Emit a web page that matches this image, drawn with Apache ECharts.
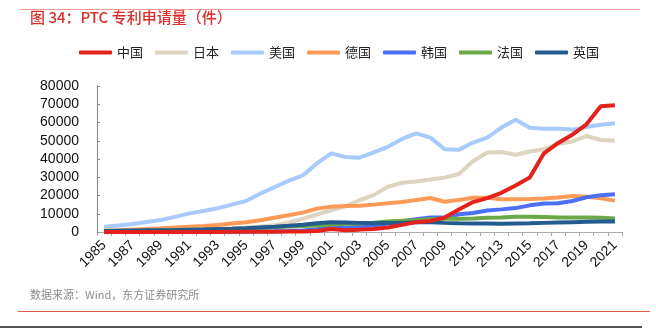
<!DOCTYPE html>
<html>
<head>
<meta charset="utf-8">
<script src="https://cdn.jsdelivr.net/npm/echarts@6/dist/echarts.min.js"></script>
<style>html,body{margin:0;padding:0;background:#fff;}#c{width:656px;height:330px;}</style>
</head>
<body>
<div id="c"></div>
<script>
const years = [];
for (let y = 1985; y <= 2021; y++) years.push(String(y));

const seriesNames = ['中国', '日本', '美国', '德国', '韩国', '法国', '英国'];

const china = [0, 0, 0, 0, 0, 0, 0, 0, 0, 100, 100, 120, 160, 250, 280, 580, 1700, 1000, 1300, 1700,
  2500, 3900, 5400, 6100, 7900, 12300, 16400, 18600, 21500, 25500, 29800, 43100, 48800, 53300, 59000, 68900, 69500];
const japan = [300, 400, 500, 700, 900, 1100, 1300, 1600, 1800, 2100, 2500, 3000, 3700, 5200, 7200, 9600, 11900, 14100, 17400, 20200,
  24800, 27000, 27700, 28800, 29800, 31800, 38800, 43600, 43800, 42300, 44100, 45300, 48200, 49600, 52600, 50400, 50200];
const usa = [2900, 3600, 4400, 5500, 6600, 8300, 10200, 11500, 13000, 15000, 17000, 21000, 24500, 28000, 31000, 37600, 43100, 41100, 40700, 43600,
  46700, 51000, 54000, 51700, 45400, 45000, 49000, 51700, 57200, 61500, 57100, 56600, 56600, 56100, 57500, 58800, 59600];
const germany = [700, 900, 1300, 1700, 2000, 2500, 2900, 3300, 3800, 4600, 5300, 6400, 7800, 9200, 10600, 12800, 13900, 14200, 14400, 15000,
  15700, 16400, 17500, 18600, 16600, 17500, 18800, 18800, 18000, 18000, 18100, 18300, 18900, 19700, 19300, 18500, 17200];
const korea = [0, 0, 0, 10, 20, 40, 60, 80, 110, 150, 180, 250, 350, 500, 800, 1500, 2300, 2500, 2900, 3500,
  4700, 5900, 7000, 7900, 8000, 9700, 10400, 11800, 12400, 13100, 14600, 15600, 15800, 17000, 19000, 20100, 20700];
const france = [300, 400, 500, 600, 800, 900, 1100, 1300, 1500, 1700, 1900, 2200, 2600, 3000, 3300, 3600, 4100, 4500, 4700, 5100,
  5700, 6200, 6500, 7000, 7200, 7200, 7400, 7800, 7900, 8300, 8400, 8200, 8000, 7900, 7900, 7800, 7400];
const uk = [600, 700, 800, 900, 1000, 1100, 1300, 1400, 1600, 1800, 2100, 2500, 2900, 3400, 4000, 4800, 5300, 5200, 5000, 4800,
  4900, 5000, 5400, 5400, 5000, 4800, 4700, 4600, 4500, 4700, 4800, 5000, 5200, 5400, 5600, 5700, 5800];

const colors = ['#e3221c', '#ddd4c1', '#a7cbfd', '#fc9b58', '#4b6ff5', '#6ba848', '#245b8e'];
const dataList = [china, japan, usa, germany, korea, france, uk];

const chart = echarts.init(document.getElementById('c'), null, {renderer: 'canvas'});
const font = '"Noto Sans CJK SC", "Liberation Sans", Arial, sans-serif';
const numFont = '"Liberation Sans", Arial, sans-serif';

chart.setOption({
  animation: false,
  backgroundColor: '#fff',
  color: colors,
  textStyle: {fontFamily: font},
  graphic: [
    {type: 'rect', shape: {x: 20, y: 9, width: 620, height: 1}, style: {fill: '#f09a94'}},
    {type: 'text', left: 30, top: 10, style: {text: '图 34：PTC 专利申请量（件）', fill: '#d9302a', font: '500 15px ' + font}},
    {type: 'text', left: 30, top: 289, style: {text: '数据来源：Wind，东方证券研究所', fill: '#8c8c8c', font: '11px ' + font}},
    {type: 'rect', shape: {x: 18, y: 311, width: 632, height: 1}, style: {fill: '#e05a50'}},
    {type: 'rect', shape: {x: 0, y: 326, width: 642, height: 2}, style: {fill: '#555'}}
  ],
  legend: {
    left: 74, top: 41,
    itemWidth: 33, itemHeight: 4, itemGap: 12,
    icon: 'roundRect',
    textStyle: {fontSize: 13, color: '#222', fontFamily: font},
    data: seriesNames
  },
  grid: {left: 97, right: 34, top: 86, bottom: 98, containLabel: false},
  xAxis: {
    type: 'category',
    data: years,
    boundaryGap: true,
    axisLine: {lineStyle: {color: '#aaaaaa', width: 1}},
    axisTick: {show: true, interval: 0, length: 4, lineStyle: {color: '#aaaaaa'}},
    axisLabel: {interval: 1, rotate: 45, fontSize: 14, color: '#111', margin: 11, fontFamily: numFont}
  },
  yAxis: {
    type: 'value',
    min: 0, max: 80000, interval: 10000,
    splitLine: {show: false},
    axisLine: {show: true, lineStyle: {color: '#888', width: 1}},
    axisTick: {show: true, inside: true, length: 3, lineStyle: {color: '#888'}},
    axisLabel: {fontSize: 14, color: '#111', margin: 18, fontFamily: numFont, formatter: v => String(v)}
  },
  series: seriesNames.map((n, i) => ({
    name: n,
    type: 'line',
    data: dataList[i],
    symbol: 'none',
    lineStyle: {width: 4, color: colors[i]},
    itemStyle: {color: colors[i]},
    z: i === 0 ? 3 : 2
  }))
});
</script>
</body>
</html>
